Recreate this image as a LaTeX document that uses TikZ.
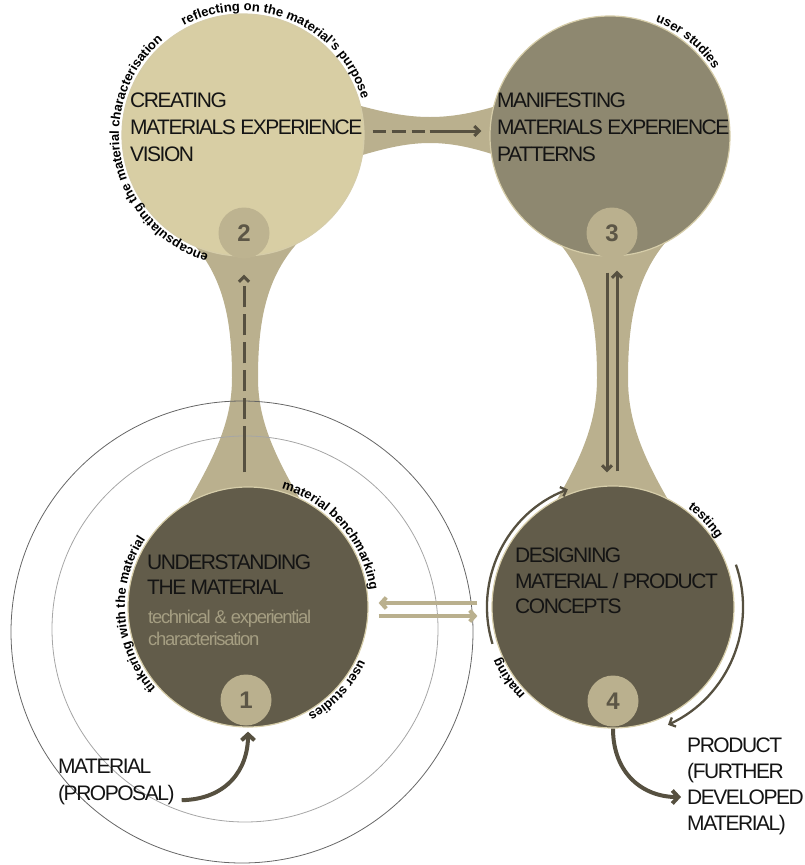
\documentclass[tikz,border=0pt]{standalone}
\usepackage{fontspec}
\setmainfont{Liberation Sans}
\newfontfamily\tightfont{Liberation Sans}[LetterSpace=-7]
\usetikzlibrary{arrows.meta,decorations.text}
\definecolor{cvision}{HTML}{D8CEA4}
\definecolor{cpattern}{HTML}{8E8870}
\definecolor{cdarkc}{HTML}{625C4A}
\definecolor{cneck}{HTML}{BAB08E}
\definecolor{crim}{HTML}{D6CDA9}
\definecolor{carrow}{HTML}{565040}
\definecolor{cnum}{HTML}{5C5646}
\definecolor{csub}{HTML}{A59E82}
\definecolor{ctext}{HTML}{141414}
\begin{document}
\begin{tikzpicture}[x=1pt,y=1pt,
  bigcirc/.style={circle, inner sep=0pt, draw=crim, line width=1.2pt},
  numcirc/.style={circle, inner sep=0pt, minimum size=51pt, fill=cneck, text=cnum,
     font=\bfseries\fontsize{24}{24}\selectfont},
  titletext/.style={anchor=north west, inner sep=0pt, align=left, text=ctext},
  subtext/.style={anchor=north west, inner sep=0pt, align=left, text=csub,
     font=\tightfont\fontsize{18.5}{22}\selectfont},
  arclabel/.style={decorate, decoration={text along path, text align=center,
     text={|\bfseries\fontsize{13}{13}\selectfont|#1}}},
  darr/.style={draw=carrow, line width=3pt, -{Straight Barb[length=5pt,width=10pt]}},
  larr/.style={draw=cneck, line width=4pt, -{Straight Barb[length=5pt,width=11pt]}},
  barr/.style={draw=carrow, line width=4pt, -{Straight Barb[length=6pt,width=13pt]}},
  thinarr/.style={draw=carrow, line width=2.3pt, -{Straight Barb[length=5pt,width=10pt]}},
  ringout/.style={draw=black!60, line width=0.8pt},
  ringin/.style={draw=black!35, line width=0.8pt}
]
\useasboundingbox (0,-865) rectangle (804,0);

% necks
\fill[cneck] (185,-235) .. controls (223,-272) and (232,-318) .. (232,-378)
  .. controls (232,-425) and (212,-462) .. (178,-520) -- (312,-520)
  .. controls (278,-462) and (258,-425) .. (258,-378)
  .. controls (258,-318) and (267,-272) .. (305,-235) -- cycle;
\fill[cneck] (552,-235) .. controls (588,-272) and (597,-318) .. (597,-378)
  .. controls (597,-425) and (580,-462) .. (545,-520) -- (680,-520)
  .. controls (645,-462) and (628,-425) .. (628,-378)
  .. controls (628,-318) and (637,-272) .. (672,-235) -- cycle;
\fill[cneck] (340,-100) .. controls (380,-112) and (405,-117) .. (430,-117)
  .. controls (455,-117) and (480,-112) .. (515,-100) -- (515,-162)
  .. controls (480,-149) and (455,-143) .. (430,-143)
  .. controls (405,-143) and (380,-149) .. (340,-162) -- cycle;

% rings
\draw[ringout] (242,-632) circle[radius=231];
\draw[ringin] (245,-629) circle[radius=193];

% big circles
\node[bigcirc, fill=cvision, minimum size=242pt] (c2) at (243,-135) {};
\node[bigcirc, fill=cpattern, minimum size=240pt] (c3) at (610,-136) {};
\node[bigcirc, fill=cdarkc, minimum size=240pt] (c1) at (248,-607) {};
\node[bigcirc, fill=cdarkc, minimum size=242pt] (c4) at (613,-607) {};

% number circles
\node[numcirc, fill=cneck!90!cvision] (n2) at (244,-233) {2};
\node[numcirc] (n3) at (612,-233) {3};
\node[numcirc] (n1) at (246,-700) {1};
\node[numcirc] (n4) at (613,-701) {4};

% titles
\node[titletext, font=\tightfont\fontsize{21}{27}\selectfont] (t2) at (130,-93)
  {CREATING\\MATERIALS EXPERIENCE\\VISION};
\node[titletext, font=\tightfont\fontsize{21}{27}\selectfont] (t3) at (497,-93)
  {MANIFESTING\\MATERIALS EXPERIENCE\\PATTERNS};
\node[titletext, font=\tightfont\fontsize{21}{25}\selectfont] (t1) at (147,-555)
  {UNDERSTANDING\\THE MATERIAL};
\node[subtext] (s1) at (148,-610) {technical \& experiential\\characterisation};
\node[titletext, font=\tightfont\fontsize{21}{25.5}\selectfont] (t4) at (515,-548)
  {DESIGNING\\MATERIAL / PRODUCT\\CONCEPTS};
\node[titletext, font=\tightfont\fontsize{21}{27}\selectfont] (lm) at (58,-759)
  {MATERIAL\\(PROPOSAL)};
\node[titletext, font=\tightfont\fontsize{21}{26}\selectfont] (lp) at (687,-738)
  {PRODUCT\\(FURTHER\\DEVELOPED\\MATERIAL)};

% arc labels
\path[arclabel={reflecting on the material's purpose}]
  (c2.center) ++(140:124) arc[start angle=140, end angle=-5, radius=124];
\path[arclabel={encapsulating the material characterisation}]
  (c2.center) ++(272:124) arc[start angle=272, end angle=112, radius=124];
\path[arclabel={user studies}]
  (c3.center) ++(82:123) arc[start angle=82, end angle=19, radius=123];
\path[arclabel={material benchmarking}]
  (c1.center) ++(82:123) arc[start angle=82, end angle=0, radius=123];
\path[arclabel={tinkering with the material}]
  (c1.center) ++(240:123) arc[start angle=240, end angle=128, radius=123];
\path[arclabel={user studies}]
  (c1.center) ++(-5:123) arc[start angle=-5, end angle=-81, radius=123];
\path[arclabel={testing}]
  (c4.center) ++(62:124) arc[start angle=62, end angle=24, radius=124];
\path[arclabel={making}]
  (c4.center) ++(236:124) arc[start angle=236, end angle=193, radius=124];

% connectors
\draw[darr, shorten <=14pt, shorten >=16pt,
  dash pattern=on 46pt off 7pt on 21pt off 7pt on 21pt off 7pt on 21pt off 7pt on 21pt off 7pt on 21pt off 7pt on 60pt off 0pt]
  (c1.north -| n2.south) -- (n2.south);
\draw[darr, shorten <=8pt, shorten >=8pt,
  dash pattern=on 13pt off 6pt on 14pt off 6pt on 13pt off 5pt on 80pt off 0pt]
  ([yshift=4pt]c2.east) -- ([yshift=5pt]c3.west);
\draw[darr, shorten <=14pt, shorten >=13pt] ([xshift=-5pt]n3.south) -- ([xshift=-6pt]c4.north);
\draw[darr, shorten <=14pt, shorten >=12pt] ([xshift=4pt]c4.north) -- ([xshift=5pt]n3.south);
\draw[larr, shorten <=14pt, shorten >=10pt] ([yshift=4pt]c4.west) -- ([yshift=4pt]c1.east);
\draw[larr, shorten <=10pt, shorten >=14pt] ([yshift=-9pt]c1.east) -- ([yshift=-9pt]c4.west);
\draw[thinarr] (c4.center) ++(197:126) arc[start angle=197, end angle=111, radius=126];
\draw[thinarr] (c4.center) ++(19:130) arc[start angle=19, end angle=-65, radius=130];
\draw[barr, shorten >=4pt] ([shift={(7pt,5pt)}]lm.south east) .. controls +(45,1) and +(0,-42) .. (c1.south);
\coordinate (pin) at (681,-797);
\draw[barr] (c4.south) .. controls +(0,-45) and +(-38,0) .. (pin);
\end{tikzpicture}
\end{document}
